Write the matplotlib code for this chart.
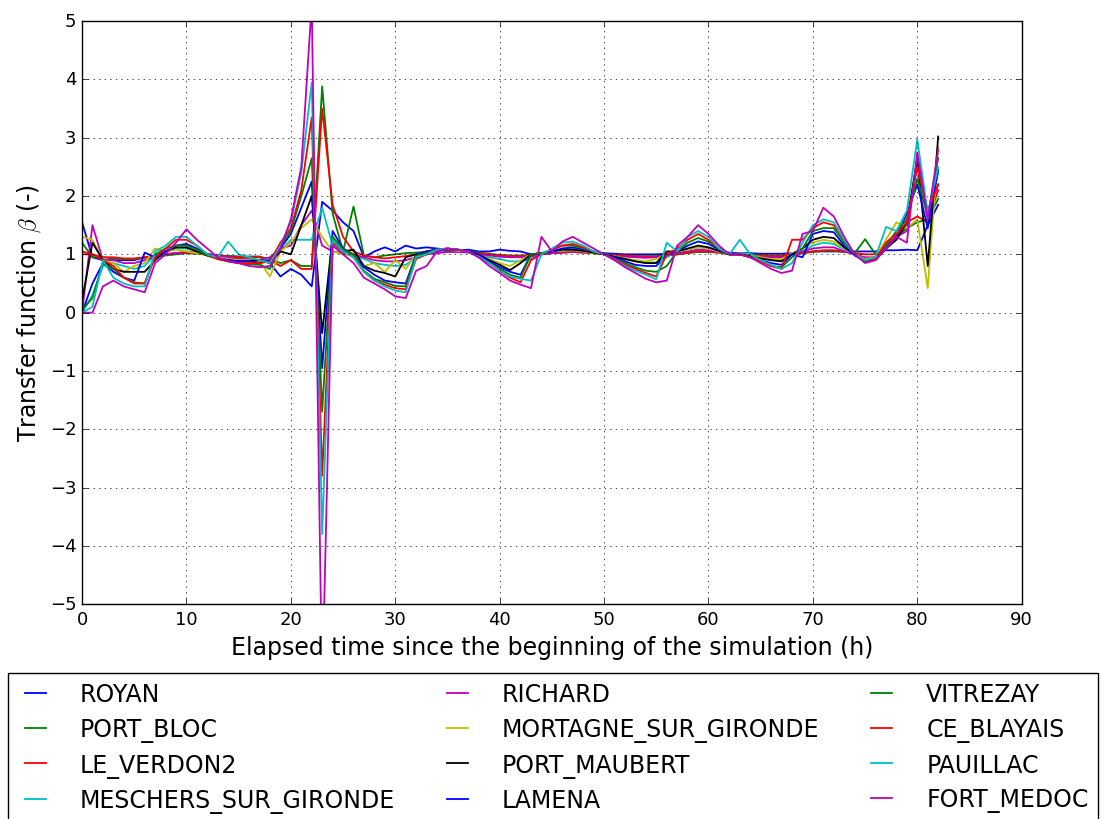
import numpy as np
import matplotlib
matplotlib.use("Agg")
import matplotlib.pyplot as plt
from matplotlib.ticker import MultipleLocator

plt.style.use("classic")

hours = list(range(83))

stations = ["ROYAN", "PORT_BLOC", "LE_VERDON2", "MESCHERS_SUR_GIRONDE",
            "RICHARD", "MORTAGNE_SUR_GIRONDE", "PORT_MAUBERT", "LAMENA",
            "VITREZAY", "CE_BLAYAIS", "PAUILLAC", "FORT_MEDOC"]

royan = [1.55, 0.95, 0.90, 0.90, 0.90, 0.90, 0.95, 0.97, 1.00, 1.02,
         1.03, 1.02, 1.00, 0.98, 0.97, 0.96, 0.96, 0.96, 0.85, 0.62,
         0.75, 0.65, 0.45, 1.90, 1.75, 1.55, 1.40, 0.95, 1.05, 1.12,
         1.05, 1.15, 1.10, 1.12, 1.10, 1.08, 1.07, 1.08, 1.05, 1.05,
         1.08, 1.06, 1.05, 1.00, 1.02, 1.03, 1.04, 1.05, 1.04, 1.03,
         1.02, 1.01, 1.00, 1.00, 1.00, 1.00, 1.01, 1.02, 1.04, 1.05,
         1.05, 1.04, 1.03, 1.02, 1.02, 1.01, 1.01, 1.01, 1.02, 1.03,
         1.05, 1.05, 1.05, 1.05, 1.05, 1.05, 1.05, 1.07, 1.07, 1.08,
         1.07, 1.50, 1.85]

port_bloc = [1.20, 0.95, 0.95, 0.93, 0.92, 0.92, 0.94, 0.96, 0.98, 1.00,
             1.02, 1.01, 1.00, 0.98, 0.97, 0.96, 0.96, 0.96, 0.92, 0.85,
             0.90, 0.80, 0.80, 3.88, 1.70, 1.05, 1.82, 0.98, 0.95, 0.98,
             1.00, 1.02, 1.03, 1.04, 1.05, 1.06, 1.06, 1.05, 1.03, 1.01,
             0.99, 0.98, 0.98, 0.99, 1.00, 1.02, 1.03, 1.04, 1.03, 1.02,
             1.00, 0.99, 0.98, 0.97, 0.97, 0.97, 0.98, 1.00, 1.02, 1.04,
             1.04, 1.03, 1.01, 1.00, 1.00, 0.99, 0.98, 0.98, 1.00, 1.02,
             1.04, 1.06, 1.06, 1.04, 1.02, 1.26, 1.00, 1.15, 1.30, 1.45,
             1.55, 1.60, 1.95]

le_verdon2 = [1.05, 1.00, 0.95, 0.95, 0.93, 0.93, 0.95, 0.97, 1.00, 1.02,
              1.03, 1.02, 1.00, 0.98, 0.96, 0.95, 0.95, 0.95, 0.90, 0.80,
              0.90, 0.75, 0.75, 3.50, 1.85, 1.30, 1.05, 0.98, 0.95, 0.93,
              0.95, 0.97, 1.00, 1.02, 1.04, 1.05, 1.05, 1.04, 1.02, 1.00,
              0.98, 0.97, 0.97, 0.98, 1.00, 1.02, 1.03, 1.04, 1.03, 1.02,
              1.00, 0.99, 0.98, 0.97, 0.96, 0.96, 0.98, 1.00, 1.03, 1.05,
              1.05, 1.03, 1.00, 1.00, 0.99, 0.98, 0.97, 0.97, 1.00, 1.02,
              1.05, 1.07, 1.07, 1.05, 1.02, 1.00, 1.00, 1.15, 1.30, 1.55,
              1.65, 1.55, 2.10]

meschers = [0.00, 0.30, 0.80, 0.85, 0.80, 0.75, 0.80, 1.00, 1.05, 1.10,
            1.10, 1.05, 1.00, 0.97, 0.93, 0.92, 0.90, 0.90, 0.92, 1.05,
            1.25, 1.25, 1.25, 1.80, 1.15, 1.05, 1.00, 0.92, 0.85, 0.82,
            0.80, 0.82, 0.95, 1.02, 1.05, 1.06, 1.05, 1.04, 1.00, 0.95,
            0.92, 0.88, 0.88, 0.92, 1.00, 1.04, 1.10, 1.10, 1.06, 1.03,
            1.00, 0.96, 0.92, 0.88, 0.86, 0.86, 0.95, 1.05, 1.08, 1.12,
            1.10, 1.05, 1.00, 1.02, 1.00, 0.96, 0.92, 0.90, 1.00, 1.05,
            1.15, 1.20, 1.18, 1.08, 1.00, 0.92, 0.95, 1.20, 1.35, 1.50,
            2.55, 1.60, 2.40]

richard = [0.00, 1.50, 0.90, 0.90, 0.85, 0.85, 0.90, 0.95, 1.00, 1.02,
           1.05, 1.03, 1.00, 0.98, 0.95, 0.92, 0.92, 0.90, 0.95, 1.10,
           1.15, 1.50, 1.75, 1.15, 1.05, 1.02, 1.00, 0.95, 0.90, 0.88,
           0.88, 0.90, 0.95, 1.00, 1.02, 1.04, 1.04, 1.03, 1.00, 0.98,
           0.96, 0.95, 0.95, 0.96, 1.00, 1.02, 1.04, 1.05, 1.04, 1.02,
           1.00, 0.98, 0.96, 0.95, 0.94, 0.95, 0.98, 1.02, 1.05, 1.08,
           1.07, 1.04, 1.00, 1.00, 0.98, 0.96, 0.95, 0.95, 1.00, 1.05,
           1.10, 1.12, 1.12, 1.05, 1.00, 0.95, 0.95, 1.10, 1.30, 1.40,
           2.60, 1.70, 2.20]

mortagne = [1.30, 1.25, 0.90, 0.85, 0.70, 0.80, 0.85, 1.10, 1.05, 1.08,
            1.05, 1.02, 0.98, 0.95, 0.92, 0.90, 0.90, 0.88, 0.62, 1.05,
            1.20, 1.45, 1.60, 1.30, 1.05, 1.00, 0.98, 0.80, 0.85, 0.70,
            0.90, 0.75, 1.00, 1.05, 1.08, 1.08, 1.06, 1.05, 1.00, 0.92,
            0.85, 0.80, 0.90, 1.00, 1.02, 1.05, 1.06, 1.07, 1.05, 1.02,
            1.00, 0.97, 0.93, 0.90, 0.88, 0.92, 1.00, 1.05, 1.08, 1.12,
            1.10, 1.05, 1.00, 1.00, 0.98, 0.95, 0.92, 0.92, 1.02, 1.10,
            1.20, 1.25, 1.22, 1.10, 1.00, 0.92, 0.95, 1.25, 1.55, 1.45,
            1.60, 0.42, 2.85]

port_maubert = [0.20, 1.20, 0.90, 0.75, 0.70, 0.70, 0.70, 0.90, 1.05, 1.12,
                1.12, 1.05, 0.98, 0.93, 0.90, 0.88, 0.88, 0.90, 0.85, 1.05,
                1.00, 1.50, 2.00, -0.35, 1.30, 1.05, 1.08, 0.80, 0.72, 0.68,
                0.62, 0.95, 1.00, 1.05, 1.08, 1.08, 1.08, 1.05, 1.00, 0.90,
                0.82, 0.73, 0.85, 1.00, 1.02, 1.05, 1.08, 1.08, 1.06, 1.03,
                1.00, 0.96, 0.92, 0.88, 0.85, 0.85, 1.05, 1.05, 1.10, 1.15,
                1.12, 1.06, 1.00, 1.00, 0.97, 0.93, 0.90, 0.88, 1.00, 1.10,
                1.25, 1.30, 1.28, 1.12, 1.00, 0.90, 0.90, 1.10, 1.25, 1.55,
                2.65, 0.80, 3.02]

lamena = [0.00, 0.50, 0.85, 0.70, 0.60, 0.55, 1.03, 0.95, 1.05, 1.15,
          1.18, 1.10, 1.00, 0.93, 0.90, 0.88, 0.88, 0.85, 0.90, 1.10,
          1.35, 1.80, 2.25, -0.95, 1.40, 1.10, 1.00, 0.78, 0.65, 0.55,
          0.52, 0.50, 1.00, 1.05, 1.08, 1.10, 1.08, 1.05, 1.00, 0.88,
          0.78, 0.70, 0.65, 1.00, 1.02, 1.05, 1.10, 1.12, 1.08, 1.05,
          1.00, 0.95, 0.88, 0.82, 0.80, 0.80, 1.00, 1.05, 1.15, 1.22,
          1.18, 1.08, 1.00, 1.00, 0.95, 0.90, 0.85, 0.82, 1.00, 0.95,
          1.35, 1.40, 1.38, 1.15, 0.98, 0.88, 0.92, 1.10, 1.30, 1.70,
          2.20, 1.45, 2.45]

vitrezay = [0.05, 0.25, 0.85, 0.75, 0.60, 0.52, 0.50, 1.00, 1.10, 1.15,
            1.15, 1.08, 0.98, 0.92, 0.88, 0.85, 0.83, 0.82, 0.75, 1.15,
            1.40, 2.00, 2.65, -1.70, 1.30, 1.08, 1.00, 0.72, 0.58, 0.52,
            0.46, 0.45, 0.98, 1.02, 1.08, 1.10, 1.08, 1.05, 0.95, 0.85,
            0.75, 0.65, 0.60, 1.00, 1.02, 1.08, 1.15, 1.15, 1.10, 1.05,
            1.00, 0.92, 0.85, 0.78, 0.72, 0.70, 0.80, 1.05, 1.20, 1.28,
            1.22, 1.10, 1.00, 1.00, 0.95, 0.88, 0.80, 0.78, 0.95, 1.10,
            1.40, 1.45, 1.45, 1.20, 1.00, 0.88, 0.95, 1.15, 1.40, 1.60,
            2.30, 1.65, 2.65]

ce_blayais = [1.00, 1.00, 0.90, 0.80, 0.60, 0.50, 0.50, 0.95, 1.10, 1.25,
              1.25, 1.15, 1.00, 0.92, 0.88, 0.85, 0.85, 0.85, 0.88, 1.20,
              1.45, 2.10, 3.35, -2.80, 1.20, 1.05, 0.95, 0.70, 0.55, 0.48,
              0.42, 0.40, 0.92, 1.00, 1.08, 1.10, 1.08, 1.05, 0.95, 0.85,
              0.72, 0.60, 0.52, 0.90, 1.00, 1.08, 1.15, 1.18, 1.12, 1.05,
              1.00, 0.92, 0.82, 0.75, 0.68, 0.62, 1.00, 1.10, 1.25, 1.35,
              1.25, 1.10, 1.00, 1.00, 0.95, 0.88, 0.80, 0.75, 1.25, 1.25,
              1.45, 1.55, 1.50, 1.25, 1.00, 0.90, 0.92, 1.20, 1.35, 1.55,
              2.50, 1.75, 2.20]

pauillac = [0.00, 0.10, 0.90, 0.60, 0.50, 0.45, 0.45, 1.05, 1.15, 1.30,
            1.30, 1.15, 1.00, 0.95, 1.22, 1.00, 0.95, 0.90, 0.85, 1.15,
            1.55, 2.40, 3.95, -3.80, 1.25, 1.05, 0.95, 0.70, 0.55, 0.45,
            0.38, 0.35, 0.95, 1.00, 1.08, 1.10, 1.08, 1.05, 0.95, 0.85,
            0.72, 0.62, 0.58, 0.55, 1.00, 1.10, 1.20, 1.22, 1.15, 1.05,
            1.00, 0.90, 0.80, 0.72, 0.65, 0.57, 1.20, 1.05, 1.30, 1.40,
            1.30, 1.10, 1.00, 1.25, 1.00, 0.90, 0.82, 0.75, 0.85, 1.20,
            1.50, 1.60, 1.55, 1.25, 1.00, 0.90, 0.95, 1.47, 1.40, 1.75,
            2.97, 1.70, 2.50]

fort_medoc = [0.00, 0.00, 0.45, 0.55, 0.45, 0.40, 0.35, 0.85, 1.00, 1.20,
              1.43, 1.25, 1.10, 0.95, 0.88, 0.85, 0.80, 0.78, 0.80, 1.10,
              1.60, 2.50, 5.30, -6.50, 1.15, 1.00, 0.85, 0.60, 0.50, 0.40,
              0.28, 0.25, 0.72, 0.80, 1.05, 1.10, 1.08, 1.05, 0.95, 0.80,
              0.68, 0.55, 0.48, 0.42, 1.30, 1.05, 1.22, 1.30, 1.20, 1.10,
              1.00, 0.90, 0.78, 0.68, 0.58, 0.52, 0.55, 1.15, 1.30, 1.50,
              1.35, 1.15, 1.00, 1.00, 0.95, 0.85, 0.75, 0.68, 0.72, 1.35,
              1.40, 1.80, 1.65, 1.30, 1.00, 0.85, 0.90, 1.10, 1.30, 1.20,
              2.75, 1.60, 2.80]

series = [royan, port_bloc, le_verdon2, meschers, richard, mortagne,
          port_maubert, lamena, vitrezay, ce_blayais, pauillac, fort_medoc]

fig = plt.figure(figsize=(11.01, 8.2), dpi=100, facecolor="white")
ax = fig.add_axes([0.0745, 0.262, 0.8535, 0.711])

for name, vals in zip(stations, series):
    ax.plot(hours, vals, label=name, linewidth=1.3)

ax.set_xlim(0, 90)
ax.set_ylim(-5, 5)
ax.yaxis.set_major_locator(MultipleLocator(1))
ax.grid(True)
ax.tick_params(labelsize=13)
ax.set_xlabel("Elapsed time since the beginning of the simulation (h)", fontsize=17)
ax.set_ylabel(r"Transfer function $\beta$ (-)", fontsize=17)

fig.legend(*ax.get_legend_handles_labels(), loc="upper left",
           bbox_to_anchor=(0.0073, 0.0, 0.99, 0.178),
           bbox_transform=fig.transFigure, mode="expand", ncol=3,
           borderaxespad=0, fontsize=17, handlelength=1.5,
           handletextpad=1.15, labelspacing=0.45)

fig.savefig("out.png", dpi=100, facecolor="white")
